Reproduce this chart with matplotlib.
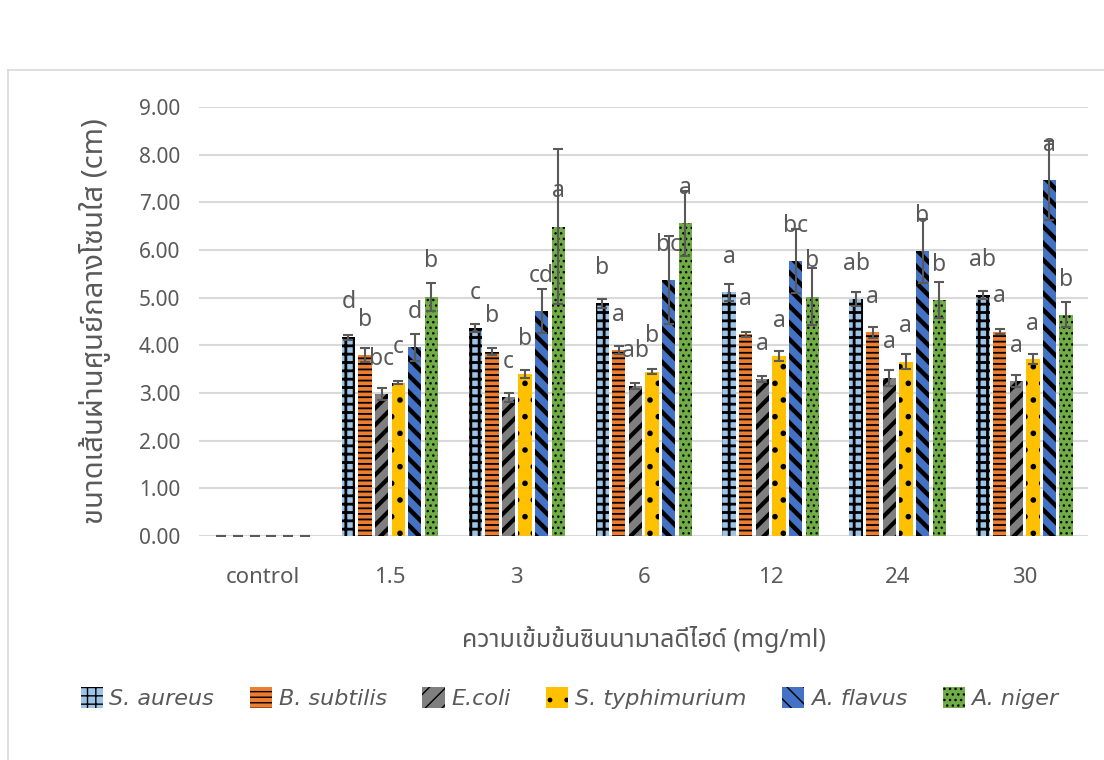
import matplotlib
matplotlib.use('Agg')
import matplotlib.pyplot as plt
import numpy as np
from matplotlib import font_manager
from matplotlib.ft2font import FT2Font
from matplotlib.lines import Line2D

# ข้อมูล: ขนาดโซนใส (cm) ที่ความเข้มข้นต่างๆ
groups = ['control', '1.5', '3', '6', '12', '24', '30']
series = ['S. aureus', 'B. subtilis', 'E.coli', 'S. typhimurium', 'A. flavus', 'A. niger']

s_aureus = [0, 4.17, 4.36, 4.88, 5.11, 4.97, 5.06]
b_subtilis = [0, 3.80, 3.87, 3.90, 4.23, 4.27, 4.29]
e_coli = [0, 2.98, 2.91, 3.15, 3.29, 3.32, 3.25]
s_typh = [0, 3.22, 3.40, 3.45, 3.78, 3.66, 3.71]
a_flavus = [0, 3.96, 4.72, 5.37, 5.77, 5.98, 7.46]
a_niger = [0, 5.02, 6.49, 6.56, 5.02, 4.95, 4.64]

s_aureus_err = [0, 0.05, 0.09, 0.09, 0.18, 0.15, 0.09]
b_subtilis_err = [0, 0.15, 0.08, 0.09, 0.06, 0.11, 0.06]
e_coli_err = [0, 0.12, 0.09, 0.06, 0.06, 0.17, 0.13]
s_typh_err = [0, 0.04, 0.09, 0.06, 0.10, 0.15, 0.10]
a_flavus_err = [0, 0.28, 0.46, 0.93, 0.67, 0.67, 0.82]
a_niger_err = [0, 0.29, 1.63, 0.68, 0.60, 0.37, 0.26]

s_aureus_lbl = ['', 'd', 'c', 'b', 'a', 'ab', 'ab']
b_subtilis_lbl = ['', 'b', 'b', 'a', 'a', 'a', 'a']
e_coli_lbl = ['', 'bc', 'c', 'ab', 'a', 'a', 'a']
s_typh_lbl = ['', 'c', 'b', 'b', 'a', 'a', 'a']
a_flavus_lbl = ['', 'd', 'cd', 'bc', 'bc', 'b', 'a']
a_niger_lbl = ['', 'b', 'a', 'a', 'b', 'b', 'b']

values = [s_aureus, b_subtilis, e_coli, s_typh, a_flavus, a_niger]
errors = [s_aureus_err, b_subtilis_err, e_coli_err, s_typh_err, a_flavus_err, a_niger_err]
letters = [s_aureus_lbl, b_subtilis_lbl, e_coli_lbl, s_typh_lbl, a_flavus_lbl, a_niger_lbl]

colors = ['#9DC3E6', '#ED7D31', '#7F7F7F', '#FFC000', '#4472C4', '#70AD47']
hatches = ['++', '---', '//', '.', '\\\\', '...']
hatch_lw = [2.0, 1.3, 3.0, 1.6, 3.2, 1.0]


# หาฟอนต์ที่มีอักษรไทย
def thai_family():
    found = []
    for f in font_manager.fontManager.ttflist:
        try:
            if 0x0E01 in FT2Font(f.fname).get_charmap():
                found.append(f.name)
        except Exception:
            pass
    for pref in ['Noto Sans Thai', 'Noto Sans Thai Looped', 'Loma', 'Garuda', 'Tahoma', 'Norasi']:
        if pref in found:
            return pref
    return found[0] if found else 'DejaVu Sans'


thai = thai_family()
plt.rcParams['font.family'] = [thai, 'DejaVu Sans']

grey = '#595959'

fig = plt.figure(figsize=(11.04, 7.6), dpi=100)
ax = fig.add_axes([0.1807, 0.2947, 0.8048, 0.5645])

# กรอบของแผนภูมิ
fig.add_artist(Line2D([8 / 1104, 8 / 1104], [0, 1 - 70 / 760], transform=fig.transFigure, color='#D9D9D9', lw=1.2))
fig.add_artist(Line2D([8 / 1104, 1], [1 - 70 / 760, 1 - 70 / 760], transform=fig.transFigure, color='#D9D9D9', lw=1.2))

x = np.arange(len(groups))
pitch = 0.131
width = 0.105
for i in range(len(series)):
    pos = x + (i - 2.5) * pitch
    with plt.rc_context({'hatch.linewidth': hatch_lw[i]}):
        ax.bar(pos, values[i], width, color=colors[i], edgecolor='black', linewidth=0,
               hatch=hatches[i], label=series[i], zorder=3)
    ax.errorbar(pos, values[i], yerr=errors[i], fmt='none', ecolor=grey, elinewidth=1.5,
                capsize=3.5, capthick=1.5, zorder=4)
    for j in range(len(groups)):
        if letters[i][j]:
            ax.text(pos[j], values[i][j] + 0.74, letters[i][j], ha='center', va='center',
                    fontsize=16.5, color=grey, zorder=5)

ax.set_xlim(-0.5, len(groups) - 0.5)
ax.set_ylim(0, 9)
ax.set_yticks(np.arange(0, 9.5, 1))
ax.set_yticklabels(['%.2f' % v for v in np.arange(0, 9.5, 1)])
ax.set_xticks(x)
ax.set_xticklabels(groups)
ax.tick_params(length=0, labelsize=15, labelcolor=grey)
ax.tick_params(axis='y', pad=14)
ax.tick_params(axis='x', pad=22, labelsize=16)
ax.grid(axis='y', color='#D9D9D9', lw=1.5, zorder=0)
for s in ax.spines.values():
    s.set_visible(False)

ax.set_ylabel('ขนาดเส้นผ่านศูนย์กลางโซนใส (cm)', fontsize=21, color=grey, labelpad=20)
ax.set_xlabel('ความเข้มข้นซินนามาลดีไฮด์ (mg/ml)', fontsize=18, color=grey, labelpad=28)

leg = fig.legend(loc='center', bbox_to_anchor=(0.516, 0.0816), ncol=6, frameon=False,
                 handlelength=1.0, handleheight=1.1, handletextpad=0.3, columnspacing=1.6,
                 prop={'family': ['DejaVu Sans'], 'style': 'italic', 'size': 16})
for t in leg.get_texts():
    t.set_color(grey)

fig.savefig('out.png', dpi=100)
